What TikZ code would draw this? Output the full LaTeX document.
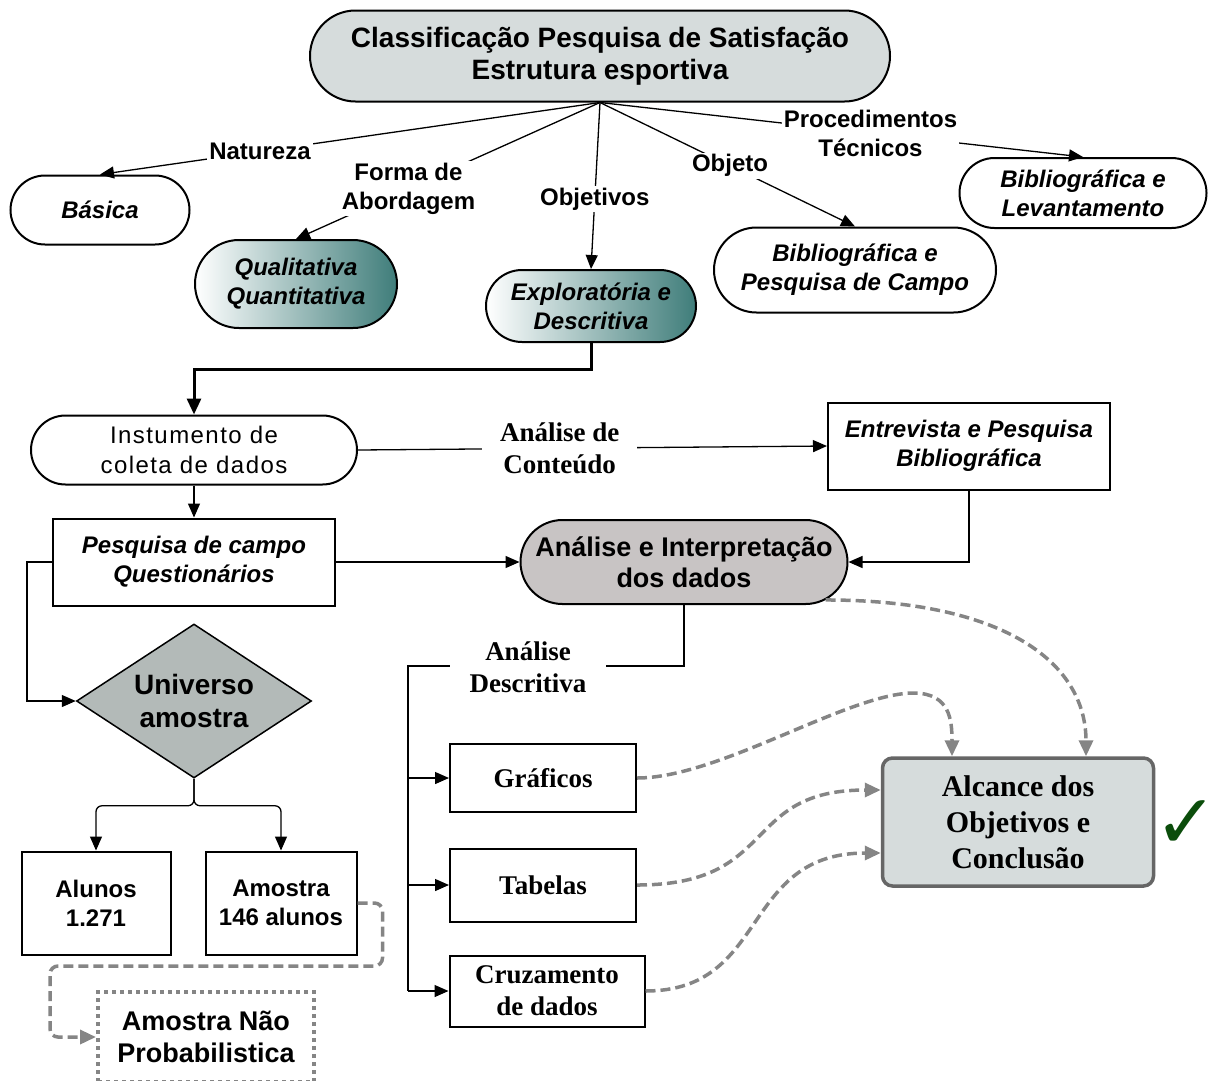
\documentclass[tikz,border=0pt]{standalone}
\usepackage{fontspec}
\setmainfont{Liberation Serif}
\setsansfont{Liberation Sans}
\newfontfamily\instrfont[LetterSpace=6]{Liberation Sans}
\newfontfamily\checkfont{DejaVu Sans}
\usetikzlibrary{arrows.meta,shapes.geometric,shapes.misc}

\definecolor{titlegray}{HTML}{D6DCDC}
\definecolor{tealdark}{HTML}{3F7D7A}
\definecolor{interpgray}{HTML}{C8C4C4}
\definecolor{diamgray}{HTML}{B3BAB8}
\definecolor{dashgray}{HTML}{858585}
\definecolor{alcgray}{HTML}{666666}
\definecolor{checkgreen}{HTML}{0B4D0B}

\tikzset{
	pill/.style={rounded rectangle, draw, line width=2pt, fill=white, inner sep=0pt, align=center,
		font=\sffamily\bfseries\itshape\fontsize{24}{29}\selectfont},
	grad/.style={left color=white, right color=tealdark},
	box/.style={rectangle, draw, line width=2pt, fill=white, inner sep=0pt, align=center,
		font=\sffamily\bfseries\fontsize{24}{29}\selectfont},
	sbox/.style={box, font=\rmfamily\bfseries\fontsize{27}{32}\selectfont},
	lbl/.style={fill=white, inner sep=2pt, align=center, font=\sffamily\bfseries\fontsize{24}{29}\selectfont},
	slbl/.style={lbl, font=\rmfamily\bfseries\fontsize{27}{32}\selectfont},
	arr/.style={-{Triangle[length=14pt,width=12pt]}, line width=1.3pt},
	dasharr/.style={-{Triangle[length=16pt,width=14pt]}, draw=dashgray, line width=3.5pt, dash pattern=on 10pt off 5pt}
}

\begin{document}
\begin{tikzpicture}[x=1pt,y=-1pt]
				\useasboundingbox (0,0) rectangle (1218,1080);
				
				\node[pill, fill=titlegray, minimum width=580pt, minimum height=91pt,
					font=\sffamily\bfseries\fontsize{28}{32}\selectfont] (title) at (600,56) {Classificação Pesquisa de Satisfação\\Estrutura esportiva};
				
				\node[pill, minimum width=179pt, minimum height=69pt] (basica) at (100,210) {Básica};
				\node[pill, grad, minimum width=202pt, minimum height=88pt] (quali) at (296,284) {Qualitativa\\Quantitativa};
				\node[pill, grad, minimum width=210pt, minimum height=72pt] (explor) at (591,306) {Exploratória e\\Descritiva};
				\node[pill, minimum width=282pt, minimum height=85pt] (bibcampo) at (855,270) {Bibliográfica e\\Pesquisa de Campo};
				\node[pill, minimum width=247pt, minimum height=70pt] (biblev) at (1083,193) {Bibliográfica e\\Levantamento};
				
				\draw[arr] (title.south) -- node[lbl, pos=0.68] {Natureza} (basica.north);
				\draw[arr] (title.south) -- node[lbl, pos=0.63] {Forma de\\Abordagem} (quali.north);
				\draw[arr] (title.south) -- node[lbl, pos=0.58] {Objetivos} (explor.north);
				\draw[arr] (title.south) -- node[lbl, pos=0.51] {Objeto} (bibcampo.north);
				\draw[arr] (title.south) -- node[lbl, pos=0.56] {Procedimentos\\Técnicos} (biblev.north);
				
				\node[pill, minimum width=326pt, minimum height=69pt,
					font=\instrfont\fontsize{24}{30}\selectfont] (instr) at (194,450) {Instumento de\\coleta de dados};
				\node[box, font=\sffamily\bfseries\itshape\fontsize{24}{29}\selectfont,
					minimum width=282pt, minimum height=87pt] (entrev) at (969,446) {Entrevista e Pesquisa\\Bibliográfica};
				\node[box, font=\sffamily\bfseries\itshape\fontsize{24}{29}\selectfont,
					minimum width=282pt, minimum height=87pt] (pesq) at (194,562) {Pesquisa de campo\\Questionários};
				\node[pill, fill=interpgray, minimum width=327pt, minimum height=84pt,
					font=\sffamily\bfseries\fontsize{27}{31}\selectfont] (interp) at (684,562) {Análise e Interpretação\\dos dados};
				
				\draw[line width=3pt, -{Triangle[length=16pt,width=14pt]}] (explor.south) -- ++(0,26) -| (instr.north);
				\draw[arr] (instr.east) -- node[slbl, pos=0.43, inner xsep=18pt] {Análise de\\Conteúdo} (entrev.west);
				\draw[arr] (instr.south) -- (pesq.north);
				\draw[arr] (pesq.east) -- (interp.west);
				\draw[arr] (entrev.south) |- (interp.east);
				
				\node[diamond, draw, line width=1.5pt, fill=diamgray, aspect=1.5, inner sep=0pt,
					minimum width=235pt, minimum height=154pt, align=center,
					font=\sffamily\bfseries\fontsize{28}{33}\selectfont] (univ) at (194,701) {Universo\\amostra};
				\draw[arr] (pesq.west) -- ++(-25,0) |- (univ.west);
				
				\node[box, minimum width=149pt, minimum height=103pt] (alunos) at (96,903) {Alunos\\1.271};
				\node[box, minimum width=151pt, minimum height=103pt] (amostra) at (281,903) {Amostra\\146 alunos};
				\draw[arr, rounded corners=6pt] (univ.south) -- ++(0,27) -| (alunos.north);
				\draw[arr, rounded corners=6pt] (univ.south) -- ++(0,27) -| (amostra.north);
				
				\node[box, draw=dashgray, line width=4pt, dash pattern=on 4pt off 4pt, minimum width=216pt, minimum height=90pt,
					font=\sffamily\bfseries\fontsize{27}{32}\selectfont] (naoprob) at (206,1037) {Amostra Não\\Probabilistica};
				\draw[dasharr, rounded corners=8pt] (amostra.east) -- ++(25,0) -- ++(0,63) -| ([xshift=-46pt]naoprob.west) -- (naoprob.west);
				
				% analise descritiva
				\node[sbox, minimum width=186pt, minimum height=68pt] (graf) at (543,778) {Gráficos};
				\node[sbox, minimum width=186pt, minimum height=73pt] (tab) at (543,885) {Tabelas};
				\node[sbox, minimum width=195pt, minimum height=71pt] (cruz) at (547,991) {Cruzamento\\de dados};
				\coordinate (split) at (408,666);
				\draw[line width=1.3pt] (interp.south) |- (split) -- (split |- cruz.west);
				\node[slbl, inner xsep=20pt] (desc) at (528,667) {Análise\\Descritiva};
				\foreach \n in {graf,tab,cruz}
					\draw[arr] (split |- \n.west) -- (\n.west);
				
				\node[draw=alcgray, fill=titlegray, line width=3.5pt, rounded corners=10pt, inner sep=0pt,
					minimum width=271pt, minimum height=128pt, align=center,
					font=\rmfamily\bfseries\fontsize{30}{36}\selectfont] (alcance) at (1018,822) {Alcance dos\\Objetivos e\\Conclusão};
				\node[text=checkgreen, inner sep=0pt, font=\checkfont\fontsize{76}{76}\selectfont] (check) at (1186,825) {✓};
				
				\draw[dasharr] (interp.-15) .. controls (1000,600) and (1086,660) .. ([xshift=68pt]alcance.north);
				\draw[dasharr] (graf.east) .. controls (720,778) and (850,692) .. (915,693) .. controls (950,694) and (952,720) .. ([xshift=-66pt]alcance.north);
				\draw[dasharr] (tab.east) .. controls (780,885) and (740,790) .. ([yshift=32pt]alcance.west);
				\draw[dasharr] (cruz.east) .. controls (770,991) and (740,853) .. ([yshift=-31pt]alcance.west);
\end{tikzpicture}
\end{document}
